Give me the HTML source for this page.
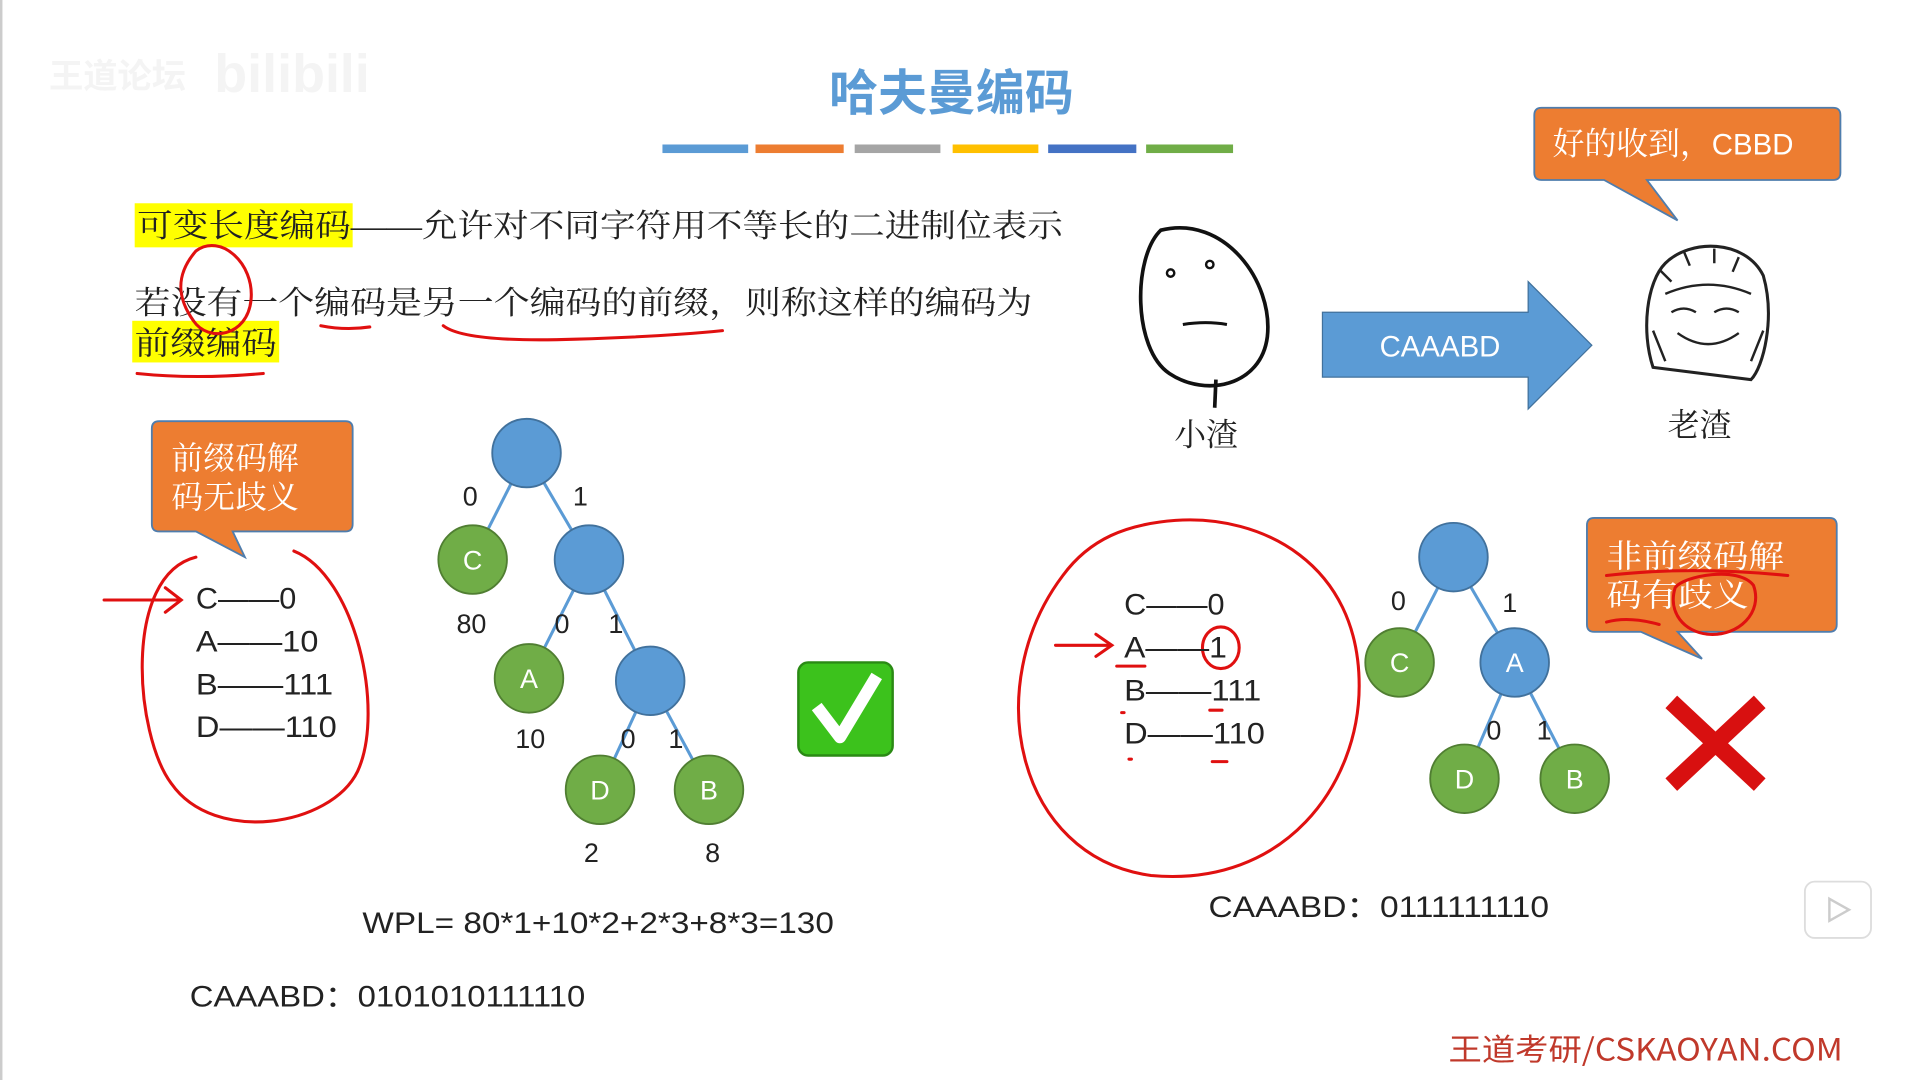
<!DOCTYPE html>
<html><head><meta charset="utf-8"><style>
html,body{margin:0;padding:0;background:#fff;overflow:hidden}
svg{display:block}
text{font-family:"Liberation Sans","Noto Sans CJK SC",sans-serif}
.cn{font-family:"Liberation Serif","Noto Serif CJK SC",serif}
</style></head><body>
<svg width="1920" height="1080" viewBox="0 0 1568 882" preserveAspectRatio="none" xmlns="http://www.w3.org/2000/svg">
<rect width="1568" height="882" fill="#fff"/>
<line x1="1" y1="0" x2="1" y2="882" stroke="#ccc" stroke-width="2"/>
<text x="40" y="72" font-size="28" fill="#f4f4f4" font-weight="bold">王道论坛</text>
<text x="175" y="75" font-size="44" fill="#f4f4f4" font-weight="bold">bilibili</text>
<text x="777" y="90" font-size="40" fill="#5b9bd5" text-anchor="middle" font-weight="bold" style="font-family:'Noto Sans CJK SC',sans-serif">哈夫曼编码</text>
<g>
<rect x="541" y="118" width="70" height="7" fill="#5b9bd5"/>
<rect x="617" y="118" width="72" height="7" fill="#ed7d31"/>
<rect x="698" y="118" width="70" height="7" fill="#a5a5a5"/>
<rect x="778" y="118" width="70" height="7" fill="#ffc000"/>
<rect x="856" y="118" width="72" height="7" fill="#4472c4"/>
<rect x="936" y="118" width="71" height="7" fill="#70ad47"/>
</g>
<rect x="110" y="166" width="178" height="36" fill="#ffff00"/>
<text class="cn" x="112" y="193" font-size="26" fill="#222" textLength="756" lengthAdjust="spacingAndGlyphs">可变长度编码——允许对不同字符用不等长的二进制位表示</text>
<text class="cn" x="110" y="256" font-size="26" fill="#222" textLength="733" lengthAdjust="spacingAndGlyphs">若没有一个编码是另一个编码的前缀，则称这样的编码为</text>
<rect x="108" y="262" width="120" height="34" fill="#ffff00"/>
<text class="cn" x="110" y="289" font-size="26" fill="#222" textLength="116" lengthAdjust="spacingAndGlyphs">前缀编码</text>
<g fill="none" stroke="#e01010" stroke-width="2.5" stroke-linecap="round">
<path d="M160 205 C180 190 208 215 205 245 C202 275 170 280 158 262 C148 248 140 228 160 205"/>
<path d="M262 266 Q282 270 302 267"/>
<path d="M362 266 Q380 280 470 277 Q540 275 590 270"/>
<path d="M112 305 Q160 310 215 305"/>
<path d="M160 455 C100 470 110 600 140 640 C175 690 270 675 292 630 C315 580 290 470 240 450"/>
<path d="M85 490 L148 490 M135 480 L148 490 L135 500"/>
<path d="M868 470 C800 560 830 700 940 715 C1050 725 1110 640 1110 560 C1110 460 1030 420 960 425 C920 428 890 440 868 470"/>
<path d="M862 527 L905 527 M895 518 L908 527 L895 536"/>
<path d="M912 544 L935 544"/>
<ellipse cx="997" cy="529" rx="15" ry="17"/>
<path d="M988 580 L998 580 M990 622 L1002 622 M916 582 L918 582 M922 620 L924 620"/>
</g>
<!-- left callout -->
<path d="M130 344 H282 Q288 344 288 350 V428 Q288 434 282 434 H190 L200 455 L160 434 H130 Q124 434 124 428 V350 Q124 344 130 344 Z" fill="#ed7d31" stroke="#4f7dad" stroke-width="1.5"/>
<text class="cn" x="140" y="383" font-size="26" fill="#fff">前缀码解</text>
<text class="cn" x="140" y="415" font-size="26" fill="#fff">码无歧义</text>
<g font-size="24" fill="#222">
<text x="160" y="497" textLength="82" lengthAdjust="spacingAndGlyphs">C——0</text>
<text x="160" y="532" textLength="100" lengthAdjust="spacingAndGlyphs">A——10</text>
<text x="160" y="567" textLength="112" lengthAdjust="spacingAndGlyphs">B——111</text>
<text x="160" y="602" textLength="115" lengthAdjust="spacingAndGlyphs">D——110</text>
</g>
<!-- left tree -->
<g stroke="#5b9bd5" stroke-width="2.5">
<line x1="430" y1="370" x2="386" y2="457"/><line x1="430" y1="370" x2="481" y2="457"/>
<line x1="481" y1="457" x2="432" y2="554"/><line x1="481" y1="457" x2="531" y2="556"/>
<line x1="531" y1="556" x2="490" y2="645"/><line x1="531" y1="556" x2="579" y2="645"/>
</g>
<g stroke="#41719c" stroke-width="1.5">
<circle cx="430" cy="370" r="28" fill="#5b9bd5"/>
<circle cx="481" cy="457" r="28" fill="#5b9bd5"/>
<circle cx="531" cy="556" r="28" fill="#5b9bd5"/>
</g>
<g stroke="#507e32" stroke-width="1.5" fill="#70ad47">
<circle cx="386" cy="457" r="28"/><circle cx="432" cy="554" r="28"/>
<circle cx="490" cy="645" r="28"/><circle cx="579" cy="645" r="28"/>
</g>
<g font-size="22" fill="#fff" text-anchor="middle">
<text x="386" y="465">C</text><text x="432" y="562">A</text><text x="490" y="653">D</text><text x="579" y="653">B</text>
</g>
<g font-size="22" fill="#222" text-anchor="middle">
<text x="384" y="413">0</text><text x="474" y="413">1</text>
<text x="385" y="517">80</text><text x="459" y="517">0</text><text x="503" y="517">1</text>
<text x="433" y="611">10</text><text x="513" y="611">0</text><text x="552" y="611">1</text>
<text x="483" y="704">2</text><text x="582" y="704">8</text>
</g>
<rect x="652" y="541" width="77" height="76" rx="8" fill="#3cc21c" stroke="#2a8a14" stroke-width="2"/>
<path d="M667 577 L686 602 L716 552" fill="none" stroke="#fff" stroke-width="10" stroke-linejoin="round"/>
<text x="296" y="762" font-size="24" fill="#222" textLength="385" lengthAdjust="spacingAndGlyphs">WPL= 80*1+10*2+2*3+8*3=130</text>
<text x="155" y="822" font-size="24" fill="#222" textLength="323" lengthAdjust="spacingAndGlyphs">CAAABD：0101010111110</text>
<!-- faces -->
<path d="M948 188 C1000 175 1040 230 1035 275 C1030 315 985 325 955 305 C925 285 925 210 948 188 Z" fill="#fff" stroke="#111" stroke-width="3"/>
<circle cx="956" cy="223" r="3" fill="none" stroke="#111" stroke-width="2"/>
<circle cx="988" cy="216" r="3" fill="none" stroke="#111" stroke-width="2"/>
<path d="M966 265 Q985 262 1002 265" stroke="#111" stroke-width="2.5" fill="none"/>
<line x1="993" y1="310" x2="992" y2="333" stroke="#111" stroke-width="3"/>
<text class="cn" x="985" y="364" font-size="26" fill="#222" text-anchor="middle">小渣</text>
<path d="M1360 215 C1380 195 1425 195 1440 225 C1450 260 1440 300 1430 310 L1350 300 C1340 270 1345 230 1360 215 Z" fill="#fff" stroke="#222" stroke-width="2.5"/>
<path d="M1360 240 Q1395 225 1430 240 M1365 255 q10 -6 20 0 M1400 255 q10 -6 20 0 M1370 272 Q1395 290 1420 272 M1355 220 l10 10 M1375 205 l5 12 M1400 203 l0 12 M1420 210 l-5 12 M1350 270 l10 25 M1440 270 l-10 25" stroke="#222" stroke-width="2" fill="none"/>
<text class="cn" x="1388" y="356" font-size="26" fill="#222" text-anchor="middle">老渣</text>
<path d="M1080 255 H1248 V230 L1300 282 L1248 334 V308 H1080 Z" fill="#5b9bd5" stroke="#41719c" stroke-width="1"/>
<text x="1176" y="291" font-size="24" fill="#fff" text-anchor="middle">CAAABD</text>
<path d="M1259 88 H1497 Q1503 88 1503 94 V141 Q1503 147 1497 147 H1345 L1370 180 L1310 147 H1259 Q1253 147 1253 141 V94 Q1253 88 1259 88 Z" fill="#ed7d31" stroke="#4f7dad" stroke-width="1.5"/>
<text class="cn" x="1268" y="126" font-size="26" fill="#fff">好的收到，<tspan style="font-family:'Liberation Sans',sans-serif" font-size="24">CBBD</tspan></text>
<!-- right code list -->
<g font-size="24" fill="#222">
<text x="918" y="502" textLength="82" lengthAdjust="spacingAndGlyphs">C——0</text>
<text x="918" y="537" textLength="84" lengthAdjust="spacingAndGlyphs">A——1</text>
<text x="918" y="572" textLength="112" lengthAdjust="spacingAndGlyphs">B——111</text>
<text x="918" y="607" textLength="115" lengthAdjust="spacingAndGlyphs">D——110</text>
</g>
<g stroke="#5b9bd5" stroke-width="2.5">
<line x1="1187" y1="455" x2="1143" y2="541"/><line x1="1187" y1="455" x2="1237" y2="541"/>
<line x1="1237" y1="541" x2="1196" y2="636"/><line x1="1237" y1="541" x2="1286" y2="636"/>
</g>
<g stroke="#41719c" stroke-width="1.5" fill="#5b9bd5">
<circle cx="1187" cy="455" r="28"/><circle cx="1237" cy="541" r="28"/>
</g>
<g stroke="#507e32" stroke-width="1.5" fill="#70ad47">
<circle cx="1143" cy="541" r="28"/><circle cx="1196" cy="636" r="28"/><circle cx="1286" cy="636" r="28"/>
</g>
<g font-size="22" fill="#fff" text-anchor="middle">
<text x="1143" y="549">C</text><text x="1237" y="549">A</text><text x="1196" y="644">D</text><text x="1286" y="644">B</text>
</g>
<g font-size="22" fill="#222" text-anchor="middle">
<text x="1142" y="498">0</text><text x="1233" y="500">1</text>
<text x="1220" y="604">0</text><text x="1261" y="604">1</text>
</g>
<path d="M1302 423 H1494 Q1500 423 1500 429 V510 Q1500 516 1494 516 H1370 L1390 538 L1340 516 H1302 Q1296 516 1296 510 V429 Q1296 423 1302 423 Z" fill="#ed7d31" stroke="#4f7dad" stroke-width="1.5"/>
<text class="cn" x="1312" y="463" font-size="26" fill="#fff" textLength="145" lengthAdjust="spacingAndGlyphs">非前缀码解</text>
<text class="cn" x="1312" y="495" font-size="26" fill="#fff" textLength="116" lengthAdjust="spacingAndGlyphs">码有歧义</text>
<g stroke="#e01010" stroke-width="2.5" fill="none" stroke-linecap="round">
<path d="M1312 470 Q1380 462 1460 470"/>
<path d="M1312 508 Q1330 503 1355 510"/>
<path d="M1368 480 C1375 470 1420 462 1432 478 C1440 500 1420 520 1395 518 C1375 516 1362 500 1368 480"/>
</g>
<path d="M1370 578 L1432 636 M1432 578 L1370 636" stroke="#d81010" stroke-width="14" stroke-linecap="square"/>
<text x="987" y="749" font-size="24" fill="#222" textLength="278" lengthAdjust="spacingAndGlyphs">CAAABD：0111111110</text>
<rect x="1474" y="720" width="54" height="46" rx="8" fill="#fff" stroke="#ddd" stroke-width="1.5"/>
<path d="M1494 734 L1510 743 L1494 752 Z" fill="none" stroke="#ccc" stroke-width="2"/>
<text x="1183" y="866" font-size="25" fill="#c0392b" textLength="322" lengthAdjust="spacingAndGlyphs" style="font-family:'Noto Sans CJK SC',sans-serif">王道考研/CSKAOYAN.COM</text>
</svg>
</body></html>
